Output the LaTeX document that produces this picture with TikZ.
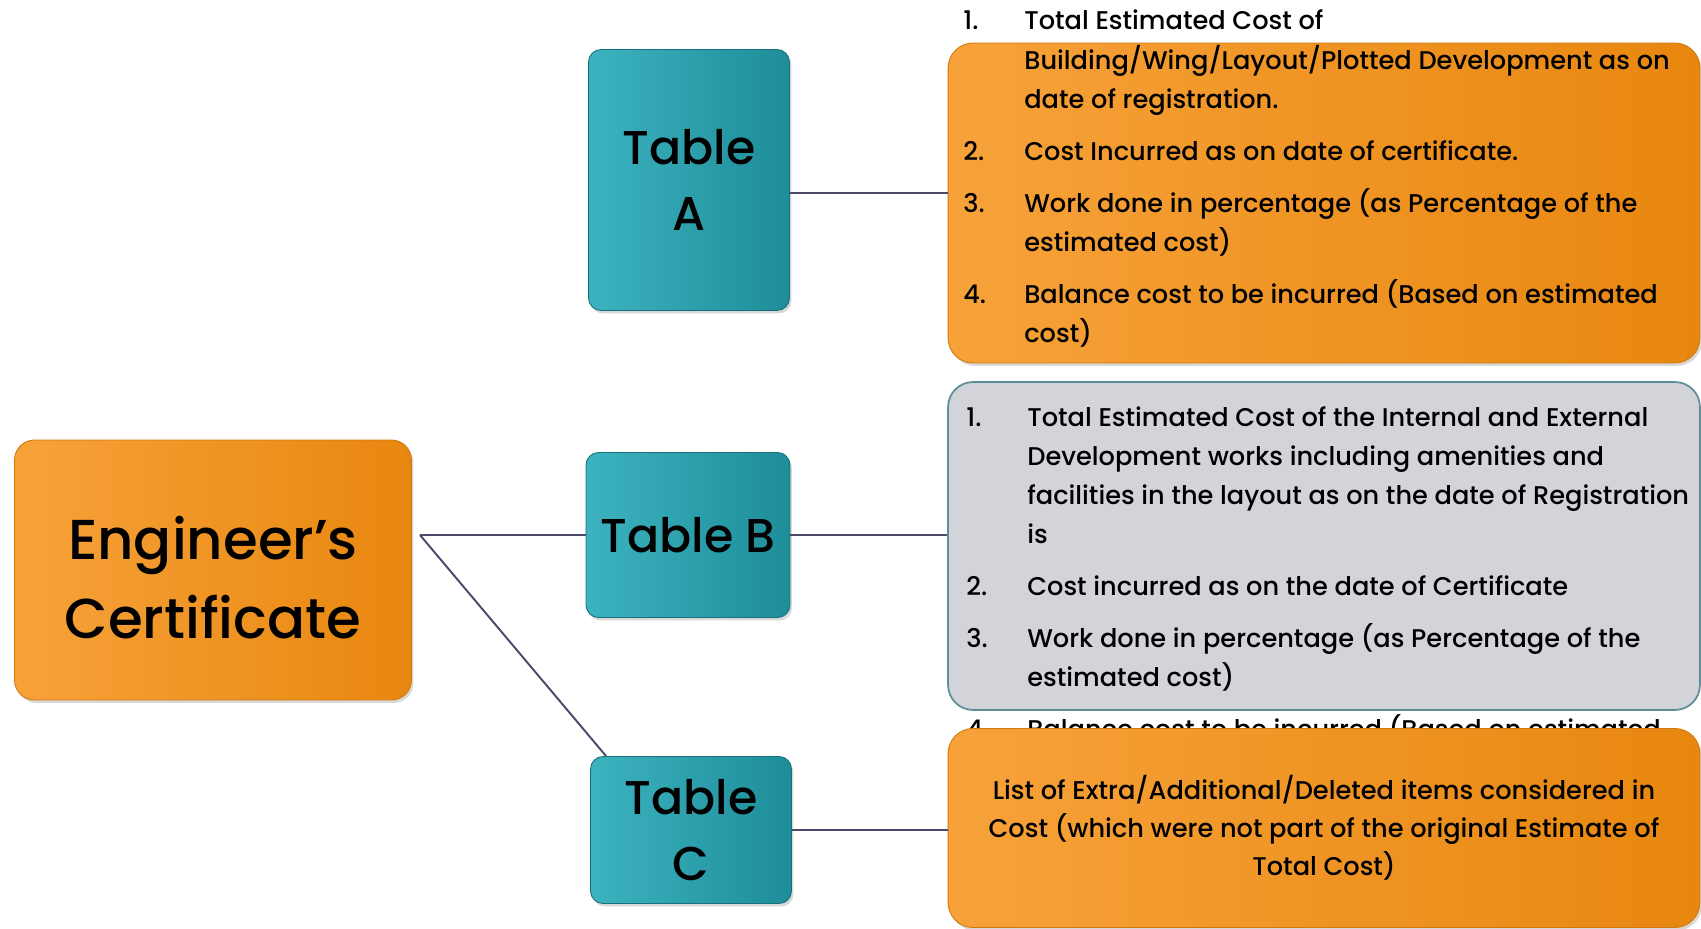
\documentclass[tikz,border=0pt]{standalone}
\usepackage{fontspec}
\setmainfont{Poppins}[UprightFont=* Medium]
\usetikzlibrary{positioning,shadows}

\definecolor{certorange}{HTML}{F7A23A}
\definecolor{certorangedark}{HTML}{E8870F}
\definecolor{tabteal}{HTML}{3DB3C0}
\definecolor{tabtealdark}{HTML}{1D8D99}
\definecolor{listgrey}{HTML}{D2D4D9}
\definecolor{listedge}{HTML}{5E8E98}
\definecolor{linkline}{HTML}{4A4A6C}

\newcommand{\itemno}[1]{\makebox[1.22cm][l]{#1}}

\begin{document}
\begin{tikzpicture}[
    x=0.02cm, y=-0.02cm,
    every node/.style={inner sep=0pt, align=center},
    certbox/.style={draw=certorangedark!90!black, line width=0.5pt, rounded corners=0.4cm,
        left color=certorange, right color=certorangedark,
        drop shadow={shadow xshift=0.04cm, shadow yshift=-0.06cm, opacity=0.3}},
    tabbox/.style={draw=tabtealdark!80!black, line width=0.5pt, rounded corners=0.25cm,
        left color=tabteal, right color=tabtealdark, font=\fontsize{27}{38}\selectfont,
        drop shadow={shadow xshift=0.04cm, shadow yshift=-0.06cm, opacity=0.3}},
    greybox/.style={draw=listedge, line width=1pt, rounded corners=0.5cm, fill=listgrey},
    listtext/.style={anchor=base west, align=left, font=\fontsize{14.6}{22.2}\selectfont},
    link/.style={draw=linkline, line width=1.1pt}
]
\useasboundingbox[fill=white] (0,0) rectangle (1701,929);

% left hand box
\node (eng) [certbox, minimum width=7.94cm, minimum height=5.2cm] at (213,570) {};
\node (engtext) [font=\fontsize{32}{45}\selectfont] at (213,578) {Engineer’s\\Certificate};

% the three tables
\node (tabA) [tabbox, minimum width=4.02cm, minimum height=5.22cm] at (689,180) {Table\\A};
\node (tabB) [tabbox, minimum width=4.08cm, minimum height=3.3cm] at (688,535) {Table B};
\node (tabC) [tabbox, minimum width=4.02cm, minimum height=2.94cm] at (691,830) {Table\\C};

% details of table A
\node (boxA) [certbox, rounded corners=0.5cm, minimum width=15.04cm, minimum height=6.4cm] at (1324,203) {};
\node (listA) [listtext] at (963,30) {\begin{tabular}[t]{@{}l@{}l@{}}
\itemno{1.} & Total Estimated Cost of\\
 & Building/Wing/Layout/Plotted Development as on\\
 & date of registration.\\[7.4pt]
\itemno{2.} & Cost Incurred as on date of certificate.\\[7.4pt]
\itemno{3.} & Work done in percentage (as Percentage of the\\
 & estimated cost)\\[7.4pt]
\itemno{4.} & Balance cost to be incurred (Based on estimated\\
 & cost)
\end{tabular}};

% details of table B
\node (boxB) [greybox, minimum width=15.04cm, minimum height=6.56cm] at (1324,546) {};
\node (listB) [listtext] at (966,426) {\begin{tabular}[t]{@{}l@{}l@{}}
\itemno{1.} & Total Estimated Cost of the Internal and External\\
 & Development works including amenities and\\
 & facilities in the layout as on the date of Registration\\
 & is\\[7.4pt]
\itemno{2.} & Cost incurred as on the date of Certificate\\[7.4pt]
\itemno{3.} & Work done in percentage (as Percentage of the\\
 & estimated cost)\\[7.4pt]
\itemno{4.} & Balance cost to be incurred (Based on estimated\\
 & cost)
\end{tabular}};

% details of table C
\node (boxC) [certbox, rounded corners=0.5cm, minimum width=15.04cm, minimum height=3.98cm,
    font=\fontsize{14.6}{21.6}\selectfont] at (1324,828)
    {List of Extra/Additional/Deleted items considered in\\
     Cost (which were not part of the original Estimate of\\
     Total Cost)};

% connectors
\coordinate (fork) at (420,535);
\draw[link] (fork) -- (tabB.west);
\draw[link] (fork) -- ([xshift=0.32cm]tabC.north west);
\draw[link] ([yshift=-0.26cm]tabA.east) -- ([yshift=-0.26cm]tabA.east -| boxA.west);
\draw[link] (tabB.east) -- (tabB.east -| boxB.west);
\draw[link] (tabC.east) -- (tabC.east -| boxC.west);
\end{tikzpicture}
\end{document}
